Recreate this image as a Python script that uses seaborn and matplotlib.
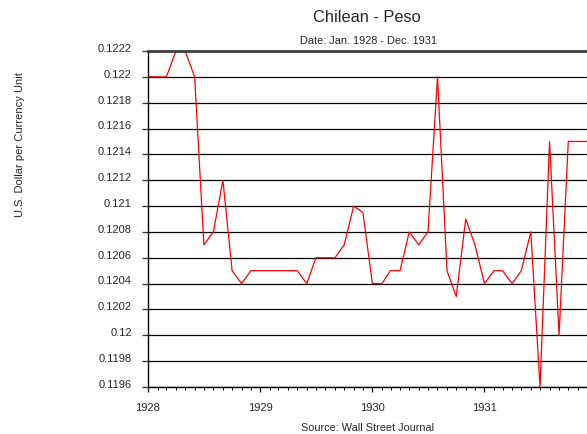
import matplotlib
matplotlib.use('Agg')  # no display
import matplotlib.pyplot as plt
import matplotlib.dates as mdates
import matplotlib.transforms as mtransforms
import seaborn as sns
import pandas as pd

# Chilean peso, monthly, Jan 1928 - Dec 1931 (US$ per peso)
months = pd.date_range('1928-01-01', '1931-12-01', freq='MS')
peso = [
    0.1220, 0.1220, 0.1220, 0.1222, 0.1222, 0.1220, 0.1207, 0.1208,
    0.1212, 0.1205, 0.1204, 0.1205, 0.1205, 0.1205, 0.1205, 0.1205,
    0.1205, 0.1204, 0.1206, 0.1206, 0.1206, 0.1207, 0.1210, 0.12095,
    0.1204, 0.1204, 0.1205, 0.1205, 0.1208, 0.1207, 0.1208, 0.1220,
    0.1205, 0.1203, 0.1209, 0.1207, 0.1204, 0.1205, 0.1205, 0.1204,
    0.1205, 0.1208, 0.1196, 0.1215, 0.1200, 0.1215, 0.1215, 0.1215,
]
y_ticks = [0.1196, 0.1198, 0.1200, 0.1202, 0.1204, 0.1206, 0.1208,
           0.1210, 0.1212, 0.1214, 0.1216, 0.1218, 0.1220, 0.1222]
y_labels = ['0.1196', '0.1198', '0.12', '0.1202', '0.1204', '0.1206', '0.1208',
            '0.121', '0.1212', '0.1214', '0.1216', '0.1218', '0.122', '0.1222']

df = pd.DataFrame({'month': months, 'usd': peso})

sns.set_style('white')
plt.rcParams['font.family'] = ['Liberation Sans', 'DejaVu Sans']

W, H = 587, 435
fig = plt.figure(figsize=(W / 100, H / 100), dpi=100)
ax = fig.add_axes([148 / W, 1 - 388 / H, 439 / W, 336 / H])

sns.lineplot(data=df, x='month', y='usd', color='red', linewidth=0.9, ax=ax)

ax.set_xlim(months[0], months[-1])
ax.set_ylim(0.1196, 0.1222)
ax.set_xlabel('')
ax.set_ylabel('')

# y axis: labels right-aligned, slightly raised
ax.set_yticks(y_ticks)
ax.set_yticklabels(y_labels, fontsize=8)
ax.tick_params(axis='y', left=True, length=4.4, width=0.9, color='#333333', pad=7.2)
shift = mtransforms.ScaledTranslation(0, 3 / 72, fig.dpi_scale_trans)
for lbl in ax.get_yticklabels():
    lbl.set_transform(lbl.get_transform() + shift)

# x axis: years with monthly minor ticks
ax.xaxis.set_major_locator(mdates.YearLocator())
ax.xaxis.set_major_formatter(mdates.DateFormatter('%Y'))
ax.xaxis.set_minor_locator(mdates.MonthLocator())
ax.tick_params(axis='x', which='major', bottom=True, length=3.6, width=0.9,
               color='black', pad=7, labelsize=8)
ax.tick_params(axis='x', which='minor', bottom=True, length=1.8, width=0.7,
               color='black')

ax.grid(axis='y', color='black', linewidth=0.9)
ax.grid(axis='x', visible=False)
ax.set_axisbelow(True)

for side in ['left', 'bottom']:
    ax.spines[side].set_color('black')
    ax.spines[side].set_linewidth(1.0)
ax.spines['top'].set_color('#404040')
ax.spines['top'].set_linewidth(2.0)
ax.spines['right'].set_visible(False)

fig.text(367 / W, 1 - 18 / H, 'Chilean - Peso', ha='center', va='center', fontsize=11.8)
fig.text(368 / W, 1 - 41 / H, 'Date: Jan. 1928 - Dec. 1931', ha='center', va='center', fontsize=7.9)
fig.text(20 / W, 1 - 145 / H, 'U.S. Dollar per Currency Unit', ha='center', va='center',
         rotation=90, fontsize=8)
fig.text(368 / W, 1 - 428 / H, 'Source: Wall Street Journal', ha='center', va='center', fontsize=7.8)

fig.savefig('out.png', dpi=100)
